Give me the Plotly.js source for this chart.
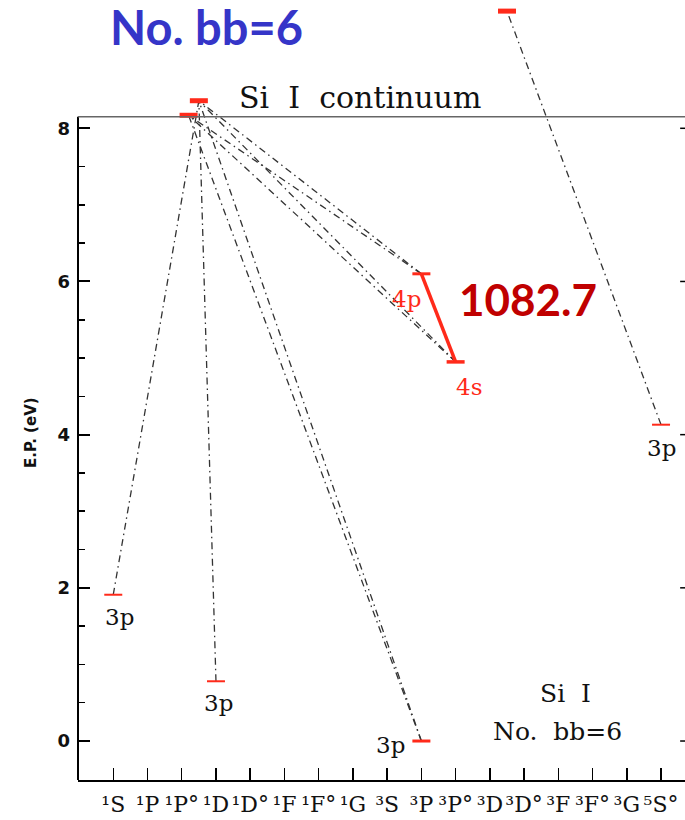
<!DOCTYPE html>
<html>
<head>
<meta charset="utf-8">
<script src="https://cdn.plot.ly/plotly-3.0.1.min.js"></script>
<style>
  html, body { margin: 0; padding: 0; background: #fff; }
  #plot { width: 685px; height: 820px; }
</style>
</head>
<body>
<div id="plot"></div>
<script>
// Term columns along the x axis (Si I spectroscopic terms)
const termLabels = ['¹S', '¹P', '¹P°', '¹D', '¹D°', '¹F', '¹F°', '¹G',
                    '³S', '³P', '³P°', '³D', '³D°', '³F', '³F°', '³G', '⁵S°'];

// Energy levels: column position, excitation potential (eV), label
const levelNames  = ['3p ¹S', '3p ¹D', '3p ³P', '4s ³P°', '4p ³P', '3p ⁵S°', 'cont a', 'cont b', 'cont c'];
const levelColumn = [0, 3, 9, 10, 9, 16, 2.2, 2.5, 11.5];
const levelEnergy = [1.91, 0.78, 0.00, 4.95, 6.10, 4.13, 8.17, 8.36, 9.53];
const levelLabel  = ['3p', '3p', '3p', '4s', '4p', '3p', '', '', ''];

// Bound-free transitions (level index pairs: bound level -> continuum level)
const bfLower = [0, 1, 2, 2, 3, 3, 4, 4, 5];
const bfUpper = [7, 7, 6, 7, 6, 7, 6, 7, 8];

// Bound-bound transition shown in red (4s ³P° - 4p ³P)
const bbLower = [3];
const bbUpper = [4];
const bbWavelength = ['1082.7'];

const ionizationEnergy = 8.15;
const yTickVals = [0, 2, 4, 6, 8];
const yMinorVals = [0.5, 1, 1.5, 2.5, 3, 3.5, 4.5, 5, 5.5, 6.5, 7, 7.5];

// ---- styling ----
const yMin = -0.509, yMax = 9.675;
const xMin = -1.03, xMax = 16.70;
const barHalf = 0.263;
const levelThick = [2, 2, 3, 3.5, 3, 2, 5, 5, 5];
const levelRed = '#ff2a1a';
const serif = 'DejaVu Serif, Liberation Serif, serif';
const sansBold = 'DejaVu Sans, Liberation Sans, sans-serif';

const traces = [];

// bound-free connections, dash-dot
for (let k = 0; k < bfLower.length; k++) {
  const a = bfLower[k], b = bfUpper[k];
  traces.push({
    type: 'scatter', mode: 'lines', hoverinfo: 'skip', showlegend: false,
    x: [levelColumn[a], levelColumn[b]],
    y: [levelEnergy[a], levelEnergy[b]],
    line: { color: '#333', width: 1.3, dash: '7px,4px,1.5px,4px' }
  });
}

// bound-bound transition
for (let k = 0; k < bbLower.length; k++) {
  const a = bbLower[k], b = bbUpper[k];
  traces.push({
    type: 'scatter', mode: 'lines', hoverinfo: 'skip', showlegend: false,
    x: [levelColumn[b], levelColumn[a]],
    y: [levelEnergy[b], levelEnergy[a]],
    line: { color: levelRed, width: 3.5 }
  });
}

// level bars
for (let i = 0; i < levelColumn.length; i++) {
  traces.push({
    type: 'scatter', mode: 'lines', hoverinfo: 'skip', showlegend: false,
    x: [levelColumn[i] - barHalf, levelColumn[i] + barHalf],
    y: [levelEnergy[i], levelEnergy[i]],
    line: { color: levelRed, width: levelThick[i] }
  });
}

// level labels (offsets in pixels from the bar centre)
const labelShift = {
  0: [6, -22], 1: [3, -22], 2: [-31, -4], 3: [13, -25], 4: [-15, -25], 5: [0, -23]
};
const annotations = [];
for (let i = 0; i < levelLabel.length; i++) {
  if (!levelLabel[i]) continue;
  const red = (i === 3 || i === 4);
  annotations.push({
    x: levelColumn[i], y: levelEnergy[i], xref: 'x', yref: 'y',
    xanchor: 'center', yanchor: 'middle',
    text: levelLabel[i], showarrow: false,
    xshift: labelShift[i][0], yshift: labelShift[i][1],
    font: { family: serif, size: 23, color: red ? levelRed : '#111' }
  });
}

// paper-positioned captions, placed by pixel centre inside the plot area
const plotH = 780, plotL = 78, plotW = 607;
function caption(cx, cy, text, font, angle) {
  annotations.push({
    x: (cx - plotL) / plotW, y: (plotH - cy) / plotH, xref: 'paper', yref: 'paper',
    xanchor: 'center', yanchor: 'middle', showarrow: false, text: text, font: font,
    textangle: angle || 0
  });
}

// wavelength label of the red transition
caption(528, 299, '<b>' + bbWavelength[0] + '</b>',
        { family: 'Lato, Open Sans, sans-serif', size: 44, color: '#c00000' });

// headline
caption(206, 27, '<b>No. bb=6</b>',
        { family: 'Lato, Open Sans, sans-serif', size: 47, color: '#3535c8' });

// continuum caption
caption(360, 97, 'Si\u00a0\u00a0I\u00a0\u00a0continuum',
        { family: serif, size: 30, color: '#111' });

// atom / count caption
caption(565, 693, 'Si\u00a0\u00a0I', { family: serif, size: 25, color: '#111' });
caption(557, 731, 'No.\u00a0\u00a0bb=6', { family: serif, size: 25, color: '#111' });

// vertical axis title
caption(31, 433, '<b>E.P. (eV)</b>', { family: sansBold, size: 15, color: '#111' }, -90);

const shapes = [
  // left axis (up to the continuum)
  { type: 'line', xref: 'paper', yref: 'y', x0: 0, x1: 0, y0: yMin, y1: ionizationEnergy,
    line: { color: '#000', width: 2 } },
  // continuum limit
  { type: 'line', xref: 'paper', yref: 'y', x0: 0, x1: 1, y0: ionizationEnergy, y1: ionizationEnergy,
    line: { color: '#666', width: 1.5 } }
];
// right-hand frame ticks
yTickVals.forEach(v => shapes.push({
  type: 'line', xref: 'paper', yref: 'y', x0: 0.992, x1: 1, y0: v, y1: v,
  line: { color: '#000', width: 1.5 }
}));

const layout = {
  width: 685, height: 820,
  margin: { l: 78, r: 0, t: 0, b: 40 },
  paper_bgcolor: '#fff', plot_bgcolor: '#fff',
  showlegend: false,
  xaxis: {
    range: [xMin, xMax], showgrid: false, zeroline: false,
    showline: true, linecolor: '#000', linewidth: 2,
    tickmode: 'array', tickvals: termLabels.map((_, i) => i), ticktext: termLabels,
    ticks: 'inside', ticklen: 12, tickwidth: 1.5, tickcolor: '#000',
    ticklabelstandoff: 4,
    tickfont: { family: serif, size: 22, color: '#111' }
  },
  yaxis: {
    range: [yMin, yMax], showgrid: false, zeroline: false, showline: false,
    tickmode: 'array', tickvals: yTickVals, ticktext: yTickVals.map(v => '<b>' + v + '</b>'),
    ticks: 'inside', ticklen: 12, tickwidth: 2, tickcolor: '#000',
    minor: { tickmode: 'array', tickvals: yMinorVals, ticks: 'inside', ticklen: 7, tickwidth: 1.5, tickcolor: '#000', showgrid: false },
    ticklabelstandoff: 7,
    tickfont: { family: sansBold, size: 18, color: '#111' }
  },
  shapes: shapes,
  annotations: annotations
};

Plotly.newPlot('plot', traces, layout, { displayModeBar: false, staticPlot: true });
</script>
</body>
</html>
